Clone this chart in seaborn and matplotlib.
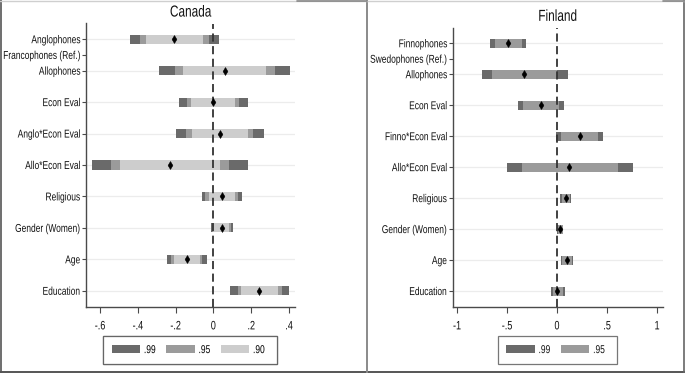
import numpy as np
import pandas as pd
import matplotlib
matplotlib.use("Agg")
import matplotlib.pyplot as plt
from matplotlib.patches import Patch
from matplotlib.lines import Line2D
from matplotlib.patheffects import AbstractPathEffect
from matplotlib.transforms import Affine2D
import seaborn as sns

nan = np.nan

# ---------------- data ----------------
canada_labels = ["Anglophones", "Francophones (Ref.)", "Allophones", "Econ Eval",
                 "Anglo*Econ Eval", "Allo*Econ Eval", "Religious", "Gender (Women)",
                 "Age", "Education"]
canada_est  = [-0.207, nan, 0.059, -0.002, 0.033, -0.230, 0.045, 0.044, -0.142, 0.244]
canada_lo99 = [-0.442, nan, -0.288, -0.184, -0.198, -0.644, -0.062, -0.014, -0.247, 0.089]
canada_hi99 = [0.030, nan, 0.408, 0.181, 0.270, 0.182, 0.153, 0.103, -0.035, 0.400]
canada_lo95 = [-0.386, nan, -0.205, -0.142, -0.144, -0.544, -0.042, -0.008, -0.225, 0.128]
canada_hi95 = [-0.025, nan, 0.326, 0.138, 0.212, 0.084, 0.130, 0.091, -0.060, 0.363]
canada_lo90 = [-0.356, nan, -0.162, -0.119, -0.114, -0.493, -0.025, 0.000, -0.210, 0.145]
canada_hi90 = [-0.056, nan, 0.281, 0.116, 0.184, 0.033, 0.114, 0.084, -0.072, 0.344]
canada_xticks = [-0.6, -0.4, -0.2, 0.0, 0.2, 0.4]
canada_xticklabels = ["-.6", "-.4", "-.2", "0", ".2", ".4"]

finland_labels = ["Finnophones", "Swedophones (Ref.)", "Allophones", "Econ Eval",
                  "Finno*Econ Eval", "Allo*Econ Eval", "Religious", "Gender (Women)",
                  "Age", "Education"]
finland_est  = [-0.487, nan, -0.327, -0.163, 0.227, 0.123, 0.090, 0.030, 0.097, 0.003]
finland_lo99 = [-0.667, nan, -0.753, -0.393, -0.010, -0.503, 0.033, -0.003, 0.040, -0.060]
finland_hi99 = [-0.307, nan, 0.107, 0.070, 0.463, 0.757, 0.140, 0.063, 0.157, 0.077]
finland_lo95 = [-0.623, nan, -0.650, -0.337, 0.043, -0.353, 0.046, 0.005, 0.052, -0.045]
finland_hi95 = [-0.350, nan, 0.003, 0.017, 0.407, 0.607, 0.126, 0.055, 0.145, 0.062]
finland_xticks = [-1.0, -0.5, 0.0, 0.5, 1.0]
finland_xticklabels = ["-1", "-.5", "0", ".5", "1"]

level_labels = [".99", ".95", ".90"]

# ---------------- style ----------------
sns.set_theme(style="white")
plt.rcParams["font.family"] = ["Liberation Sans", "DejaVu Sans"]
plt.rcParams["text.color"] = "#111111"
plt.rcParams["xtick.color"] = "#111111"
plt.rcParams["ytick.color"] = "#111111"

level_colors = {".99": "#6a6a6a", ".95": "#9b9b9b", ".90": "#cdcdcd"}
axis_col = "#4a4a4a"
NARROW = 0.74
W, H = 685, 373
fig = plt.figure(figsize=(W / 100, H / 100), dpi=100)


class HScale(AbstractPathEffect):
    """Draw text condensed horizontally (narrow typeface look)."""
    def __init__(self, sx, anchor="center"):
        super().__init__()
        self.sx = sx
        self.anchor = anchor

    def draw_path(self, renderer, gc, tpath, affine, rgbFace=None):
        ext = tpath.get_extents()
        if self.anchor == "right":
            x0 = ext.x1
        elif self.anchor == "left":
            x0 = ext.x0
        else:
            x0 = 0.5 * (ext.x0 + ext.x1)
        t = Affine2D().translate(-x0, 0).scale(self.sx, 1).translate(x0, 0) + affine
        renderer.draw_path(gc, tpath, t, rgbFace)


def narrow(texts, anchor):
    for t in texts:
        t.set_path_effects([HScale(NARROW, anchor)])


def row_positions(labels):
    pos, p = [], 0
    for lab in labels:
        if "(Ref.)" in lab:
            pos.append(p + 0.5)
        else:
            p += 1
            pos.append(p)
    return pos


def px_axes(x0, x1, y0, y1):
    return fig.add_axes([x0 / W, 1 - y1 / H, (x1 - x0) / W, (y1 - y0) / H])


def panel(ax, title, labels, est, intervals, xlim, xticks, xticklabels):
    pos = row_positions(labels)
    frames = []
    for lvl, lo, hi in intervals:
        frames.append(pd.DataFrame({"label": labels, "pos": pos, "lo": lo, "hi": hi,
                                    "level": lvl}))
    df = pd.concat(frames, ignore_index=True).dropna()
    for p, lab in zip(pos, labels):
        if "(Ref.)" not in lab:
            ax.axhline(p, color="#ececec", lw=0.9, zorder=0)
    for lvl, _, _ in intervals:
        sub = df[df["level"] == lvl]
        ax.barh(sub["pos"], sub["hi"] - sub["lo"], left=sub["lo"], height=0.29,
                color=level_colors[lvl], edgecolor="none", zorder=2)
    ax.axvline(0, color="#333333", lw=1.3, dashes=(4.5, 2.5), zorder=3)
    pts = pd.DataFrame({"pos": pos, "est": est}).dropna()
    sns.scatterplot(data=pts, x="est", y="pos", marker="d", s=16, color="black",
                    edgecolor="black", linewidth=0.4, ax=ax, zorder=4, legend=False)
    ax.set_xlim(*xlim)
    ax.set_ylim(9.5, 0.5)
    ax.set_yticks(pos)
    ax.set_yticklabels(labels, fontsize=8.2)
    ax.set_xticks(xticks)
    ax.set_xticklabels(xticklabels, fontsize=8.8)
    ax.set_xlabel("")
    ax.set_ylabel("")
    ttl = ax.set_title(title, fontsize=11.5, pad=5)
    narrow([ttl], "center")
    narrow(ax.get_yticklabels(), "right")
    narrow(ax.get_xticklabels(), "center")
    for s in ["top", "right"]:
        ax.spines[s].set_visible(False)
    for s in ["left", "bottom"]:
        ax.spines[s].set_color(axis_col)
        ax.spines[s].set_linewidth(1.0)
    ax.tick_params(axis="y", length=3, width=0.8, color=axis_col, pad=1, left=True)
    ax.tick_params(axis="x", length=4, width=0.8, color=axis_col, pad=6, bottom=True)
    ax.set_facecolor("white")


ax1 = px_axes(86, 295, 23.5, 306.5)
panel(ax1, "Canada", canada_labels, canada_est,
      [(".99", canada_lo99, canada_hi99), (".95", canada_lo95, canada_hi95),
       (".90", canada_lo90, canada_hi90)],
      (-0.674, 0.432), canada_xticks, canada_xticklabels)

ax2 = px_axes(452.7, 662.7, 27.8, 306.5)
panel(ax2, "Finland", finland_labels, finland_est,
      [(".99", finland_lo99, finland_hi99), (".95", finland_lo95, finland_hi95)],
      (-1.043, 1.057), finland_xticks, finland_xticklabels)


def make_legend(cx, levels):
    handles = [Patch(facecolor=level_colors[l], edgecolor="none", label=l) for l in levels]
    leg = fig.legend(handles=handles, loc="center", bbox_to_anchor=(cx / W, 1 - 350 / H),
                     ncol=len(levels), frameon=True, fancybox=False, fontsize=8.2,
                     handlelength=2.5, handleheight=0.75, handletextpad=0.3,
                     columnspacing=0.6, borderpad=0.75, borderaxespad=0)
    leg.get_frame().set_edgecolor("#555555")
    leg.get_frame().set_linewidth(0.9)
    narrow(leg.get_texts(), "left")
    return leg


fig.add_artist(make_legend(190.2, level_labels))
make_legend(557.5, level_labels[:2])


def fline(x0, y0, x1, y1, c, lw):
    fig.add_artist(Line2D([x0 / W, x1 / W], [1 - y0 / H, 1 - y1 / H], color=c, lw=lw,
                          transform=fig.transFigure))

fline(0.5, 0, 0.5, H, "#555555", 1.2)
fline(0, H - 1.2, W, H - 1.2, "#555555", 1.4)
fline(W - 1.5, 0, W - 1.5, H, "#666666", 1.2)
fline(367.3, 0, 367.3, H, "#8a8a8a", 1.4)
fline(0, 0.5, W, 0.5, "#cfcfcf", 1.0)
fline(297, 0.5, 367, 0.5, "#888888", 1.2)
fline(663, 0.5, W, 0.5, "#888888", 1.2)

fig.savefig("out.png", dpi=100, facecolor="white")
